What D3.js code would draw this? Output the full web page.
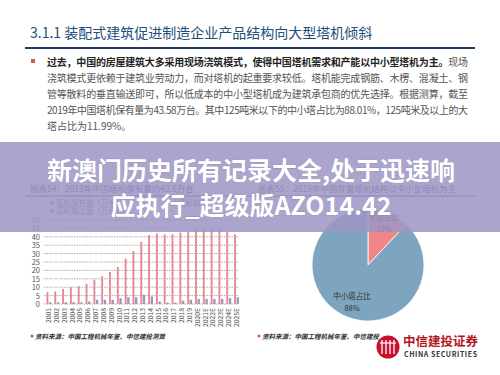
<!DOCTYPE html>
<html>
<head>
<meta charset="utf-8">
<script src="https://cdn.jsdelivr.net/npm/d3@7"></script>
<style>
  body { margin: 0; background: #fff; }
  svg { display: block; }
  text { font-family: "Noto Sans CJK SC", "Noto Sans", sans-serif; }
</style>
</head>
<body>
<div id="chart"></div>
<script>
// bar chart data (万台)
const years = ["2001","2002","2003","2004","2005","2006","2007","2008","2009","2010","2011","2012","2013",
  "2014","2015","2016","2017","2018","2019","2020E","2021E","2022E","2023E","2024E","2025E"];
const stock = [7, 7.5, 9, 10, 10.5, 12, 14.5, 16.5, 19, 22, 27, 31.5, 37, 41, 42, 41.5, 41.5, 42.5, 43.6, 44.5, 45, 45.5, 45.5, 43, 41.5];
const retired = [1, 1, 1, 1, 1, 1.5, 2.5, 2.5, 2.5, 3.5, 4, 4, 5.5, 4.5, 1.5, 0.8, 0.8, 2, 2.5, 3, 3, 3, 3, 3.5, 4];
const yTicks = [0, 5, 10, 15, 20, 25, 30, 35, 40, 45, 50];

// pie data
const pieLabels = ["大塔占比", "中小塔占比"];
const pieValues = [12, 88];

const bodyLines = [
  "浇筑模式更依赖于建筑业劳动力，而对塔机的起重要求较低。塔机能完成钢筋、木楞、混凝土、钢",
  "管等散料的垂直输送即可，所以低成本的中小型塔机成为建筑承包商的优先选择。根据测算，截至",
  "2019年中国塔机保有量为43.58万台。其中125吨米以下的中小塔占比为88.01%，125吨米及以上的大",
  "塔占比为11.99%。"
];

const width = 500, height = 375;
const svg = d3.select("#chart").append("svg").attr("width", width).attr("height", height);

// header
svg.append("text").attr("x", 30).attr("y", 38).attr("font-size", 14).attr("fill", "#1d4f7a")
  .text("3.1.1  装配式建筑促进制造企业产品结构向大型塔机倾斜");
svg.append("line").attr("x1", 25).attr("x2", 475).attr("y1", 48).attr("y2", 48)
  .attr("stroke", "#1f3a5f").attr("stroke-width", 2);

// body text
svg.append("rect").attr("x", 31).attr("y", 59).attr("width", 4).attr("height", 4).attr("fill", "#d9534f");
const first = svg.append("text").attr("x", 47).attr("y", 66).attr("font-size", 10)
  .attr("textLength", 421).attr("lengthAdjust", "spacing");
first.append("tspan").attr("font-weight", "bold").attr("fill", "#222")
  .text("过去，中国的房屋建筑大多采用现场浇筑模式，使得中国塔机需求和产能以中小型塔机为主。");
first.append("tspan").attr("fill", "#555").text("现场");
bodyLines.forEach((t, i) => {
  const tx = svg.append("text").attr("x", 47).attr("y", 82 + i * 16).attr("font-size", 10)
    .attr("fill", "#555").text(t);
  if (i < bodyLines.length - 1) tx.attr("textLength", 421).attr("lengthAdjust", "spacing");
});

// chart titles
svg.append("text").attr("x", 30).attr("y", 192).attr("font-size", 8.5).attr("fill", "#333")
  .text("图表54：2019年中国塔机保有量约43.6万台");
svg.append("text").attr("x", 258).attr("y", 192).attr("font-size", 8.5).attr("fill", "#333")
  .text("图表55：2019年中国存量塔机结构以中小型塔机为主");
svg.append("line").attr("x1", 25).attr("x2", 475).attr("y1", 196).attr("y2", 196)
  .attr("stroke", "#1f3a5f").attr("stroke-width", 1);

// legend
const legend = [["塔机保有量（万台）", "#e8909a", 50, 206], ["塔机淘汰量（万台）", "#9c98b4", 50, 214], ["塔机销量", "#c9c9c9", 172, 206]];
legend.forEach(([t, c, x, y]) => {
  svg.append("rect").attr("x", x).attr("y", y - 5).attr("width", 4).attr("height", 4).attr("fill", c);
  svg.append("text").attr("x", x + 6).attr("y", y).attr("font-size", 7.5).attr("fill", "#666").text(t);
});

// bar chart
const x = d3.scaleBand().domain(years).range([44, 241]).padding(0.2);
const y = d3.scaleLinear().domain([0, 50]).range([304, 220]);

const grid = svg.append("g");
yTicks.forEach(v => {
  grid.append("line").attr("x1", 44).attr("x2", 238).attr("y1", y(v)).attr("y2", y(v))
    .attr("stroke", "#8a8a8a").attr("stroke-width", 0.7).attr("stroke-dasharray", "1.5,1");
  grid.append("text").attr("x", 40).attr("y", y(v) + 3).attr("text-anchor", "end")
    .attr("font-size", 7.5).attr("fill", "#555").text(v);
});

const cx = d => x(d) + x.bandwidth() / 2;
svg.append("g").selectAll("rect").data(years).join("rect")
  .attr("x", (d) => cx(d) - 2.2).attr("width", 1.9)
  .attr("y", (d, i) => y(stock[i])).attr("height", (d, i) => y(0) - y(stock[i]))
  .attr("fill", "#e58a95");
svg.append("g").selectAll("rect").data(years).join("rect")
  .attr("x", (d) => cx(d) + 0.3).attr("width", 2.4)
  .attr("y", (d, i) => y(retired[i])).attr("height", (d, i) => y(0) - y(retired[i]))
  .attr("fill", "#9d99b5");

svg.append("g").selectAll("text").data(years).join("text")
  .attr("transform", d => `translate(${cx(d) + 2.5},${308}) rotate(-90)`)
  .attr("text-anchor", "end").attr("font-size", 6.8).attr("fill", "#555").text(d => d);

// pie
const pie = d3.pie().sort(null)(pieValues);
const arc = d3.arc().innerRadius(0).outerRadius(56);
const pg = svg.append("g").attr("transform", "translate(368,265)");
const pieColors = ["#f28585", "#7ea5bf"];
pg.selectAll("path").data(pie).join("path").attr("d", arc)
  .attr("fill", (d, i) => pieColors[i]).attr("stroke", "#fff").attr("stroke-width", 0.8);
const pieLabelPos = [[16, -45], [-16, 34]];
pie.forEach((d, i) => {
  const t = svg.append("text").attr("text-anchor", "middle").attr("font-size", 7.5).attr("fill", "#333")
    .attr("transform", `translate(${368 + pieLabelPos[i][0]},${265 + pieLabelPos[i][1]})`);
  t.append("tspan").attr("x", 0).attr("y", 0).text(pieLabels[i]);
  t.append("tspan").attr("x", 0).attr("y", 12).text(pieValues[i] + "%");
});

// sources
[[30, "资料来源：中国工程机械年鉴、中信建投测算"], [257, "资料来源：中国工程机械年鉴、中信建投"]].forEach(([sx, t]) => {
  svg.append("circle").attr("cx", sx + 2).attr("cy", 336).attr("r", 1.5).attr("fill", "#d9534f");
  svg.append("text").attr("x", sx + 5).attr("y", 339).attr("font-size", 6.5).attr("font-weight", "bold")
    .attr("font-style", "italic").attr("fill", "#333").text(t);
});

// logo
const logo = svg.append("g").attr("transform", "translate(388,347)");
logo.append("circle").attr("r", 11.5).attr("fill", "#c8102e");
[-6, -2, 2, 6].forEach(dx => {
  logo.append("line").attr("x1", dx).attr("x2", dx).attr("y1", -7).attr("y2", 7)
    .attr("stroke", "#fff").attr("stroke-width", 1.3);
});
logo.append("line").attr("x1", -8).attr("x2", 8).attr("y1", -4).attr("y2", -4).attr("stroke", "#fff").attr("stroke-width", 1.2);
svg.append("text").attr("x", 403).attr("y", 346).attr("font-size", 12.5).attr("font-weight", "bold")
  .attr("fill", "#b3141e").text("中信建投证券");
svg.append("text").attr("x", 404).attr("y", 357).attr("font-size", 7).attr("font-weight", "bold")
  .attr("fill", "#333").attr("font-family", "Roboto, sans-serif").attr("textLength", 73).text("CHINA SECURITIES");

// banner overlay
svg.append("rect").attr("x", 0).attr("y", 142).attr("width", width).attr("height", 90)
  .attr("fill", "#9d96c6").attr("opacity", 0.86);
[["新澳门历史所有记录大全,处于迅速响", 180], ["应执行_超级版AZO14.42", 215]].forEach(([t, ty]) => {
  svg.append("text").attr("x", 251).attr("y", ty).attr("text-anchor", "middle")
    .attr("font-size", 25).attr("font-weight", "bold").attr("fill", "#fff")
    .attr("stroke", "rgba(80,70,120,0.35)").attr("stroke-width", 0.6).attr("paint-order", "stroke")
    .text(t);
});
</script>
</body>
</html>
